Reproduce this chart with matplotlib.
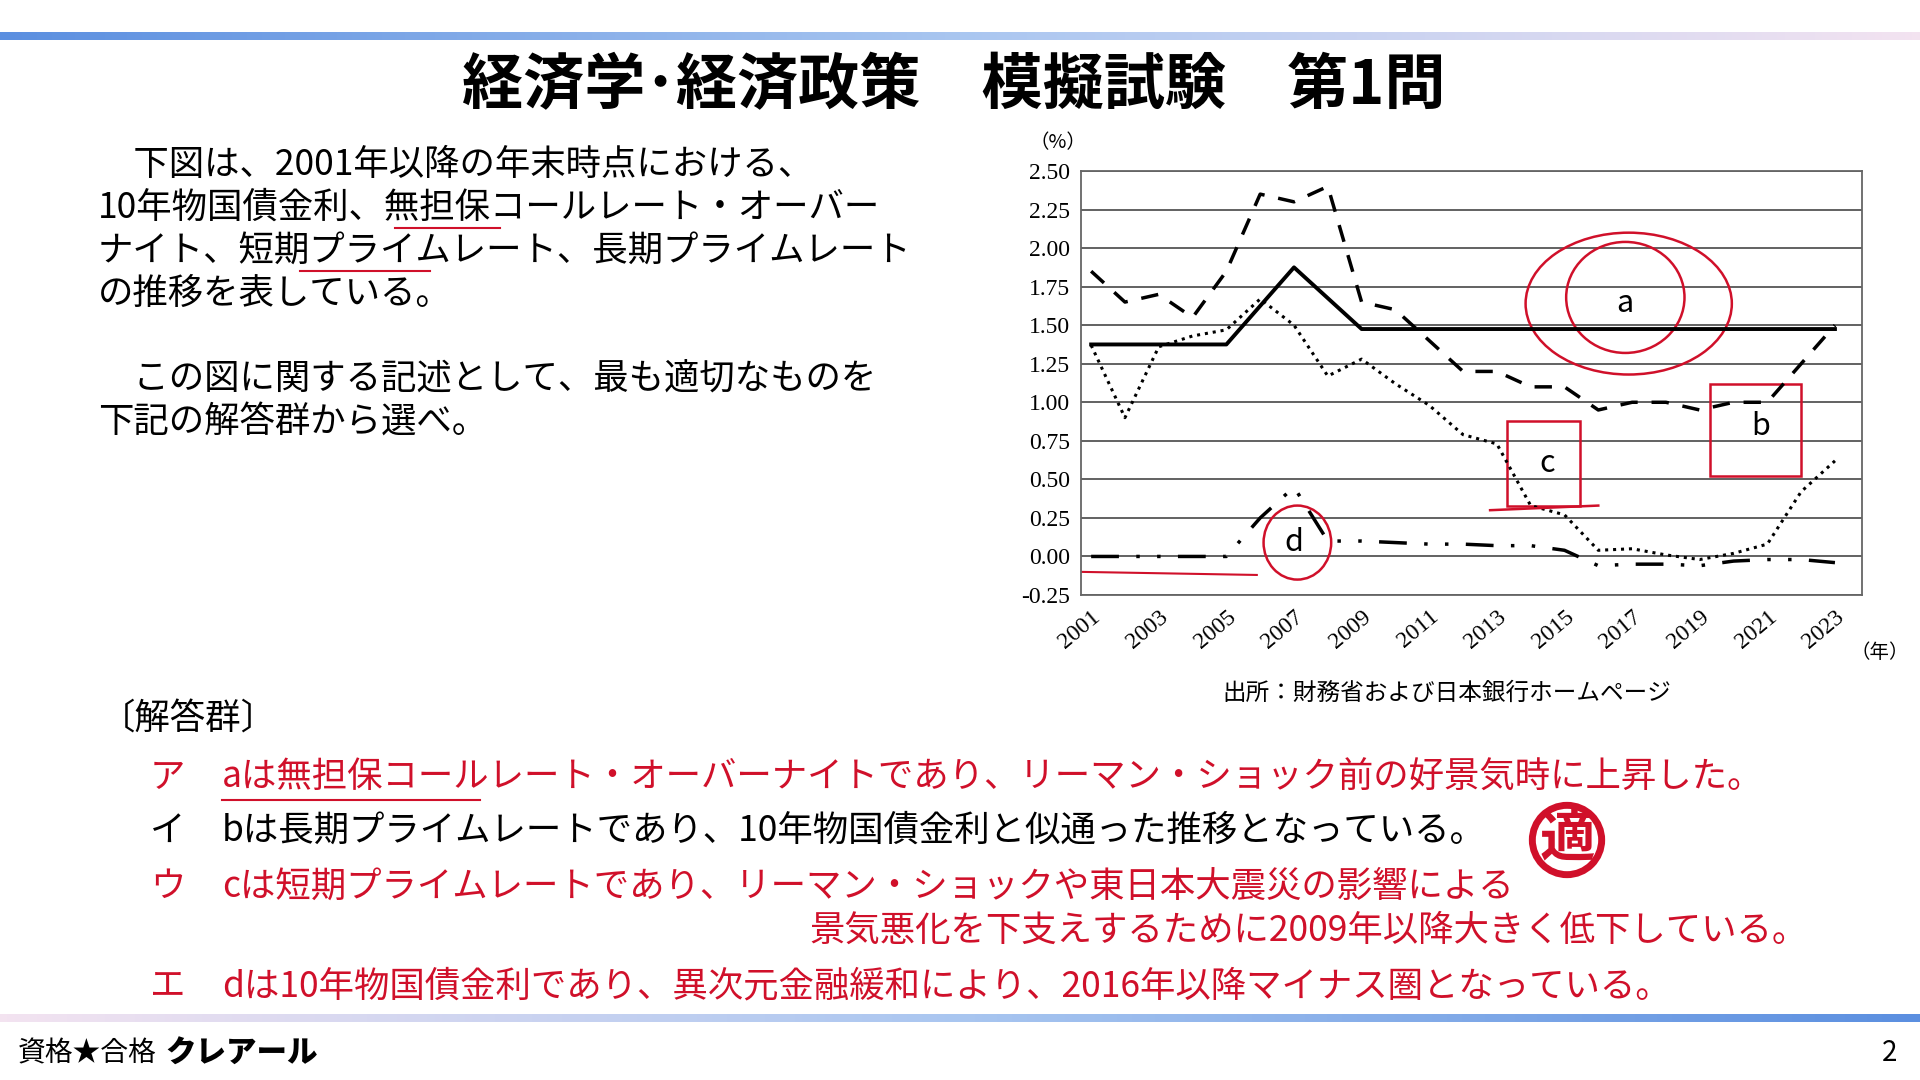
import matplotlib
matplotlib.use("Agg")
import matplotlib.pyplot as plt
import numpy as np
from matplotlib.patches import Ellipse, Rectangle
from matplotlib.colors import LinearSegmentedColormap

years = list(range(2001, 2024))
solid_a = [1.375]*5 + [1.625, 1.875, 1.675] + [1.475]*15
dashed_b = [1.85, 1.65, 1.70, 1.55, 1.85, 2.35, 2.30, 2.40, 1.65, 1.60, 1.40, 1.20,
            1.20, 1.10, 1.10, 0.95, 1.00, 1.00, 0.95, 1.00, 1.00, 1.25, 1.50]
dotted_c = [1.37, 0.90, 1.36, 1.43, 1.47, 1.67, 1.50, 1.17, 1.28, 1.12, 0.98, 0.79,
            0.73, 0.33, 0.27, 0.04, 0.05, 0.01, -0.02, 0.02, 0.08, 0.42, 0.62]
dashdot_d = [0.00, 0.00, 0.00, 0.00, 0.00, 0.25, 0.45, 0.10, 0.10, 0.09, 0.08, 0.08,
             0.07, 0.07, 0.04, -0.06, -0.05, -0.05, -0.06, -0.03, -0.02, -0.02, -0.04]
yticks = [-0.25, 0.00, 0.25, 0.50, 0.75, 1.00, 1.25, 1.50, 1.75, 2.00, 2.25, 2.50]
xticks = list(range(2001, 2024, 2))

JP = "Noto Sans CJK JP"
RED = "#d0102a"
FS = 25.5
fig = plt.figure(figsize=(19.2, 10.8), dpi=100)

grad = np.linspace(0, 1, 256).reshape(1, -1)
cm = LinearSegmentedColormap.from_list("g", ["#5b8fe0", "#a9c6f0", "#f3e3f0"])
bt = fig.add_axes([0, 1-40/1080, 1, 8/1080]); bt.imshow(grad, aspect="auto", cmap=cm); bt.axis("off")
bb = fig.add_axes([0, 1-1022/1080, 1, 8/1080]); bb.imshow(grad[:, ::-1], aspect="auto", cmap=cm); bb.axis("off")

fig.text(0.497, 1-86/1080, "経済学･経済政策　模擬試験　第1問", fontfamily=JP, fontsize=44,
         fontweight="bold", ha="center", va="center")

body = ["　下図は、2001年以降の年末時点における、",
        "10年物国債金利、無担保コールレート・オーバー",
        "ナイト、短期プライムレート、長期プライムレート",
        "の推移を表している。", "",
        "　この図に関する記述として、最も適切なものを",
        "下記の解答群から選べ。"]
for i, t in enumerate(body):
    fig.text(98/1920, 1-(165+43*i)/1080, t, fontfamily=JP, fontsize=FS, va="center")

fig.text(100/1920, 1-720/1080, "〔解答群〕", fontfamily=JP, fontsize=FS, va="center")
ans = [("ア", "aは無担保コールレート・オーバーナイトであり、リーマン・ショック前の好景気時に上昇した。", RED, 778),
       ("イ", "bは長期プライムレートであり、10年物国債金利と似通った推移となっている。", "black", 831),
       ("ウ", "cは短期プライムレートであり、リーマン・ショックや東日本大震災の影響による", RED, 887),
       ("", "景気悪化を下支えするために2009年以降大きく低下している。", RED, 931),
       ("エ", "dは10年物国債金利であり、異次元金融緩和により、2016年以降マイナス圏となっている。", RED, 986)]
for k, t, c, y in ans:
    if k:
        fig.text(150/1920, 1-y/1080, k, fontfamily=JP, fontsize=FS, color=c, va="center")
        fig.text(222/1920, 1-y/1080, t, fontfamily=JP, fontsize=FS, color=c, va="center")
    else:
        fig.text(1808/1920, 1-y/1080, t, fontfamily=JP, fontsize=FS, color=c, va="center", ha="right")
fig.text(1567/1920, 1-840/1080, "適", fontfamily=JP, fontsize=40, color=RED, fontweight="bold",
         ha="center", va="center",
         bbox=dict(boxstyle="circle,pad=0.12", fc="none", ec=RED, lw=5))

fig.text(18/1920, 1-1053/1080, "資格★合格", fontfamily=JP, fontsize=20, va="center")
fig.text(165/1920, 1-1053/1080, "クレアール", fontfamily=JP, fontsize=22, fontweight="black",
         style="italic", va="center")
fig.text(1890/1920, 1-1053/1080, "2", fontfamily=JP, fontsize=20, va="center", ha="center")

ax = fig.add_axes([1081/1920, 1-595/1080, 781/1920, 424/1080])
ax.set_xlim(2000.7, 2023.8)
ax.set_ylim(-0.25, 2.5)
ax.set_yticks(yticks)
ax.set_yticklabels([f"{v:.2f}" for v in yticks], fontfamily="Liberation Serif", fontsize=17)
ax.set_xticks(xticks)
ax.set_xticklabels([str(v) for v in xticks], fontfamily="Liberation Serif", fontsize=17, rotation=40,
                   ha="right", rotation_mode="anchor")
ax.tick_params(length=0, pad=8)
ax.grid(axis="y", color="#555", lw=1.3)
for s in ax.spines.values():
    s.set_color("#666"); s.set_linewidth(1.3)
ax.set_axisbelow(True)
ax.plot(years, solid_a, color="black", lw=2.8)
ax.plot(years, dashed_b, color="black", lw=2.5, ls=(0, (5, 4)))
ax.plot(years, dotted_c, color="black", lw=2.2, ls=(0, (1, 1.6)))
ax.plot(years, dashdot_d, color="black", lw=2.5, ls=(0, (8, 5, 1, 5, 1, 5)))
fig.text(1058/1920, 1-143/1080, "（%）", fontfamily=JP, fontsize=14, ha="center", va="center")
fig.text(1880/1920, 1-653/1080, "（年）", fontfamily=JP, fontsize=14, ha="center", va="center")
fig.text(1447/1920, 1-693/1080, "出所：財務省および日本銀行ホームページ", fontfamily=JP, fontsize=17,
         ha="center", va="center")

for lab, x, y in [("a", 2016.8, 1.64), ("b", 2020.8, 0.84), ("c", 2014.5, 0.60), ("d", 2007.0, 0.09)]:
    ax.text(x, y, lab, fontfamily=JP, fontsize=22, ha="center", va="center")
ax.add_patch(Ellipse((2016.8, 1.68), 3.5, 0.72, fill=False, ec=RED, lw=1.8))
ax.add_patch(Ellipse((2016.9, 1.64), 6.1, 0.92, fill=False, ec=RED, lw=1.8))
ax.add_patch(Rectangle((2019.3, 0.52), 2.7, 0.60, fill=False, ec=RED, lw=1.8))
ax.add_patch(Rectangle((2013.3, 0.33), 2.15, 0.55, fill=False, ec=RED, lw=1.8))
ax.add_patch(Ellipse((2007.1, 0.09), 2.0, 0.48, fill=False, ec=RED, lw=1.8))
ax.plot([2000.7, 2005.9], [-0.10, -0.12], color=RED, lw=1.5)
ax.plot([2012.8, 2016.0], [0.30, 0.33], color=RED, lw=1.8)

for x0, x1, y in [(395, 500, 228), (300, 430, 271), (222, 480, 800)]:
    fig.add_artist(plt.Line2D([x0/1920, x1/1920], [1-y/1080, 1-y/1080], color=RED, lw=1.5))

fig.savefig("out.png", dpi=100)
